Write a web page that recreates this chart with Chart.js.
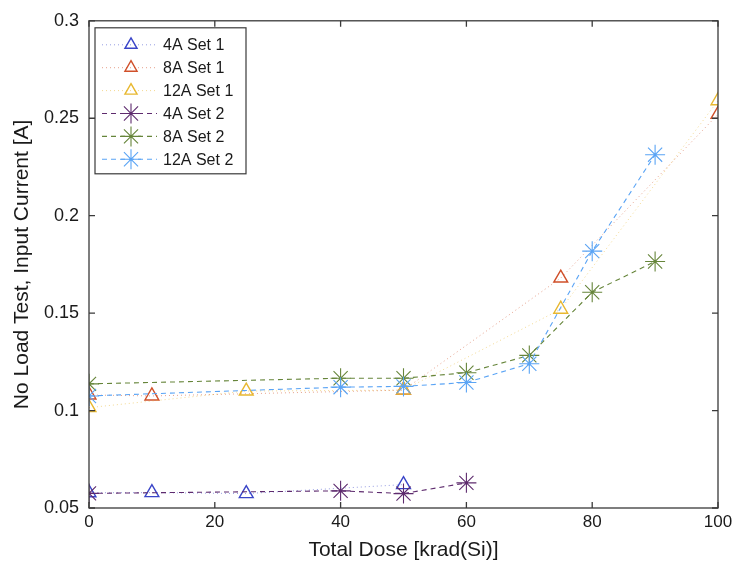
<!DOCTYPE html>
<html>
<head>
<meta charset="utf-8">
<script src="https://cdn.jsdelivr.net/npm/chart.js@4.4.1/dist/chart.umd.min.js"></script>
<style>
  html, body { margin: 0; padding: 0; background: #fff; }
  #wrap { width: 737px; height: 569px; }
</style>
</head>
<body>
<div id="wrap"><canvas id="doseChart" width="737" height="569"></canvas></div>
<script>
// Total dose [krad(Si)] per measurement, one array per run
const dose4A1 = [0, 10, 25, 50];
const dose8A1 = [0, 10, 50, 75, 100];
const dose12A1 = [0, 25, 50, 75, 100];
const dose4A2 = [0, 40, 50, 60];
const dose8A2 = [0, 40, 50, 60, 70, 80, 90];
const dose12A2 = [0, 40, 50, 60, 70, 80, 90];

// No-load input current [A]
const cur4A1 = [0.0578, 0.0579, 0.0574, 0.0620];
const cur8A1 = [0.1080, 0.1075, 0.1105, 0.1680, 0.2520];
const cur12A1 = [0.1015, 0.1100, 0.1105, 0.1520, 0.2590];
const cur4A2 = [0.0575, 0.0588, 0.0574, 0.0629];
const cur8A2 = [0.1137, 0.1166, 0.1166, 0.1194, 0.1283, 0.1607, 0.1765];
const cur12A2 = [0.1075, 0.1120, 0.1124, 0.1144, 0.1240, 0.1818, 0.2313];

const seriesLabels = ['4A Set 1', '8A Set 1', '12A Set 1', '4A Set 2', '8A Set 2', '12A Set 2'];
const xTicks = [0, 20, 40, 60, 80, 100];
const yTicks = [0.05, 0.1, 0.15, 0.2, 0.25, 0.3];

const FONT = 'Liberation Sans, Arial, sans-serif';
const TEXT = '#1a1a1a';
const AXIS = '#3a3a3a';

const pts = (xs, ys) => xs.map((x, i) => ({ x: x, y: ys[i] }));

function set1(label, xs, ys, color) {
    return {
        label: label,
        data: pts(xs, ys),
        borderColor: color + '88',
        borderWidth: 1,
        borderDash: [1, 3],
        pointStyle: 'triangle',
        pointRadius: 8,
        pointBorderWidth: 1.4,
        pointBorderColor: color,
        pointBackgroundColor: 'rgba(0,0,0,0)',
        pointHoverRadius: 8,
        fill: false,
        tension: 0
    };
}

function set2(label, xs, ys, color) {
    return {
        label: label,
        data: pts(xs, ys),
        borderColor: color,
        borderWidth: 1.1,
        borderDash: [5, 4],
        pointStyle: 'star',
        pointRadius: 10,
        pointBorderWidth: 1.1,
        pointBorderColor: color,
        pointBackgroundColor: 'rgba(0,0,0,0)',
        pointHoverRadius: 10,
        fill: false,
        tension: 0
    };
}

const datasets = [
    set1(seriesLabels[0], dose4A1, cur4A1, '#3a45c8'),
    set1(seriesLabels[1], dose8A1, cur8A1, '#d0502a'),
    set1(seriesLabels[2], dose12A1, cur12A1, '#e8b830'),
    set2(seriesLabels[3], dose4A2, cur4A2, '#5e2b6e'),
    set2(seriesLabels[4], dose8A2, cur8A2, '#66853a'),
    set2(seriesLabels[5], dose12A2, cur12A2, '#5aa4f5')
];
// later runs drawn on top
datasets.forEach((d, i) => { d.order = datasets.length - i; });

// box around the axes with inward tick marks on all four sides
const boxPlugin = {
    id: 'box',
    afterDraw(chart) {
        const { ctx, chartArea: a, scales } = chart;
        const len = 6;
        ctx.save();
        ctx.strokeStyle = AXIS;
        ctx.lineWidth = 1.3;
        ctx.strokeRect(a.left, a.top, a.right - a.left, a.bottom - a.top);
        ctx.beginPath();
        xTicks.forEach(v => {
            const x = scales.x.getPixelForValue(v);
            ctx.moveTo(x, a.bottom); ctx.lineTo(x, a.bottom - len);
            ctx.moveTo(x, a.top); ctx.lineTo(x, a.top + len);
        });
        yTicks.forEach(v => {
            const y = scales.y.getPixelForValue(v);
            ctx.moveTo(a.left, y); ctx.lineTo(a.left + len, y);
            ctx.moveTo(a.right, y); ctx.lineTo(a.right - len, y);
        });
        ctx.stroke();
        ctx.restore();
    }
};

// legend with line sample + marker, boxed in the upper left
const legendPlugin = {
    id: 'matLegend',
    afterDraw(chart) {
        const { ctx, chartArea: a } = chart;
        const bx = a.left + 6, by = a.top + 7, bw = 151, bh = 146;
        ctx.save();
        ctx.fillStyle = '#fff';
        ctx.fillRect(bx, by, bw, bh);
        ctx.strokeStyle = AXIS;
        ctx.lineWidth = 1.2;
        ctx.strokeRect(bx, by, bw, bh);
        chart.data.datasets.forEach((ds, i) => {
            const y = by + 17 + i * 22.9;
            const mx = bx + 36;
            ctx.strokeStyle = ds.borderColor;
            ctx.lineWidth = ds.borderWidth;
            ctx.setLineDash(ds.borderDash);
            ctx.beginPath();
            ctx.moveTo(bx + 7, y);
            ctx.lineTo(bx + 62, y);
            ctx.stroke();
            ctx.setLineDash([]);
            ctx.strokeStyle = ds.pointBorderColor;
            ctx.fillStyle = 'rgba(0,0,0,0)';
            ctx.lineWidth = ds.pointBorderWidth;
            Chart.helpers.drawPoint(ctx, {
                pointStyle: ds.pointStyle,
                radius: ds.pointStyle === 'triangle' ? 7 : ds.pointRadius,
                borderWidth: ds.pointBorderWidth,
                rotation: 0
            }, mx, y);
            ctx.fillStyle = TEXT;
            ctx.font = '16px ' + FONT;
            ctx.textBaseline = 'middle';
            ctx.textAlign = 'left';
            ctx.fillText(ds.label, bx + 68, y + 1);
        });
        ctx.restore();
    }
};

new Chart(document.getElementById('doseChart'), {
    type: 'line',
    data: { datasets: datasets },
    options: {
        responsive: false,
        animation: false,
        layout: { padding: { top: 14, right: 19, bottom: 0, left: 0 } },
        plugins: {
            legend: { display: false },
            tooltip: { enabled: false }
        },
        scales: {
            x: {
                type: 'linear',
                min: 0,
                max: 100,
                afterFit(s) { s.height = 61; },
                afterBuildTicks(s) { s.ticks = xTicks.map(v => ({ value: v })); },
                grid: { display: false, drawTicks: false },
                border: { display: false },
                ticks: { color: TEXT, font: { family: FONT, size: 17 }, padding: 4 },
                title: {
                    display: true,
                    text: 'Total Dose [krad(Si)]',
                    color: TEXT,
                    font: { family: FONT, size: 21 },
                    padding: { top: 0, bottom: 6 }
                }
            },
            y: {
                type: 'linear',
                min: 0.05,
                max: 0.3,
                afterFit(s) { s.width = 89; },
                afterBuildTicks(s) { s.ticks = yTicks.map(v => ({ value: v })); },
                grid: { display: false, drawTicks: false },
                border: { display: false },
                ticks: {
                    color: TEXT,
                    font: { family: FONT, size: 18 },
                    padding: 10,
                    callback: v => String(+v.toFixed(2))
                },
                title: {
                    display: true,
                    text: 'No Load Test, Input Current [A]',
                    color: TEXT,
                    font: { family: FONT, size: 21 },
                    padding: { top: 10, bottom: 0 }
                }
            }
        }
    },
    plugins: [boxPlugin, legendPlugin]
});
</script>
</body>
</html>
